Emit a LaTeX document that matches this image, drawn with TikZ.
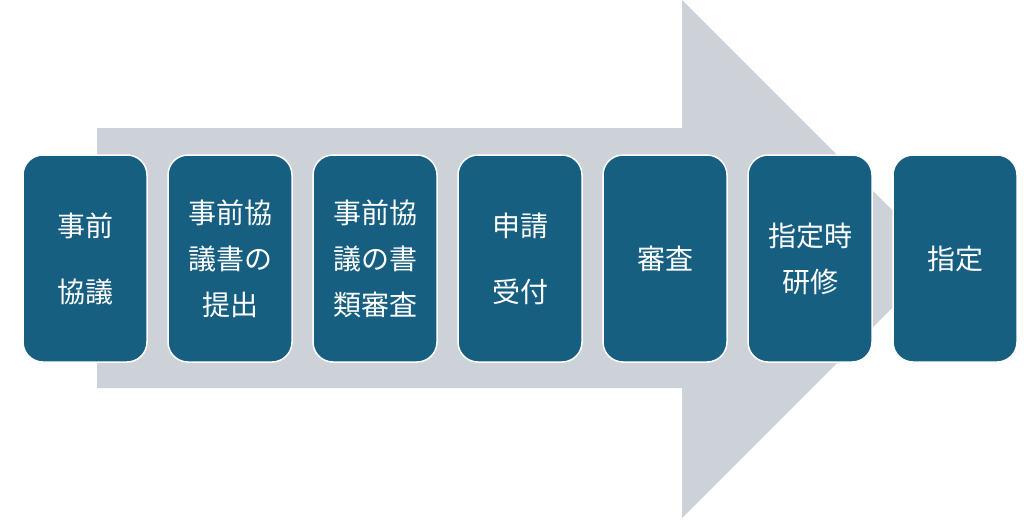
\documentclass[tikz,border=0pt]{standalone}
\usepackage{fontspec}
\newfontfamily\cjk{Noto Sans CJK JP}
\definecolor{boxfill}{HTML}{175F80}
\definecolor{arrowgray}{HTML}{CDD2D8}
\begin{document}
\begin{tikzpicture}[x=1pt,y=-1pt,
  stepbox/.style={draw=white, line width=1.5pt, fill=boxfill, rounded corners=20pt,
    minimum width=124pt, minimum height=207pt, inner sep=0pt, text=white,
    align=center, font=\cjk\fontsize{28}{46}\selectfont}]
\useasboundingbox (0,0) rectangle (1024,523);
\fill[arrowgray] (97,128) -- (682,128) -- (682,0) -- (941,259) -- (682,518) -- (682,388) -- (97,388) -- cycle;
\node[stepbox] (s1) at (85,258.5) {事前\\[20pt]協議};
\node[stepbox] (s2) at (230,258.5) {事前協\\議書の\\提出};
\node[stepbox] (s3) at (375,258.5) {事前協\\議の書\\類審査};
\node[stepbox] (s4) at (520,258.5) {申請\\[20pt]受付};
\node[stepbox] (s5) at (665,258.5) {審査};
\node[stepbox] (s6) at (810,258.5) {指定時\\研修};
\node[stepbox] (s7) at (955,258.5) {指定};
\end{tikzpicture}
\end{document}
